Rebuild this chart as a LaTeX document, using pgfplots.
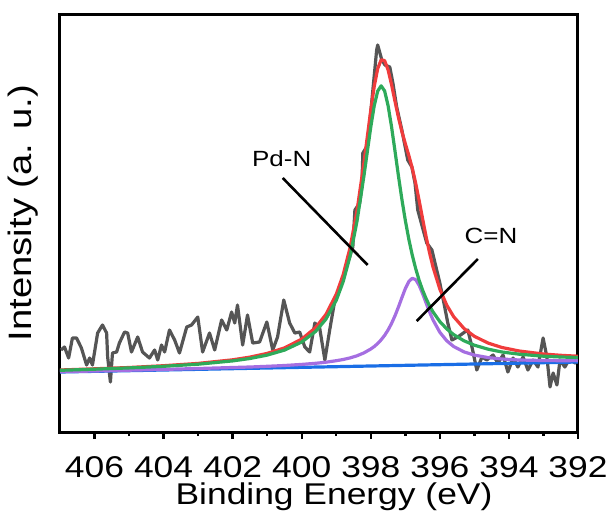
\documentclass[border=0pt]{standalone}
\usepackage{pgfplots}
\usepackage{pgfplotstable}
\pgfplotsset{compat=1.18}
\usepackage{fontspec}
\setmainfont{Liberation Sans}[FakeStretch=1.18]
\definecolor{rawgray}{HTML}{555555}
\definecolor{fitred}{HTML}{F03C3C}
\definecolor{fitgreen}{HTML}{2EAA5A}
\definecolor{fitpurple}{HTML}{A56EE1}
\definecolor{fitblue}{HTML}{1A6EE6}

\pgfplotstableread{
E v
406.97 82
406.87 85
406.75 74
406.64 94
406.52 94
406.38 84
406.23 67
406.14 74
406.06 67
405.91 99
405.77 107
405.65 99
405.62 75
405.54 50
405.48 79
405.36 80
405.28 89
405.13 100
405.04 99
404.93 80
404.75 95
404.61 80
404.41 74
404.26 82
404.17 72
404.06 87
403.97 80
403.83 102
403.68 92
403.54 79
403.33 105
403.19 107
403.01 115
402.87 80
402.67 99
402.52 82
402.32 112
402.17 102
402.03 120
401.94 109
401.86 127
401.71 87
401.57 117
401.42 89
401.22 90
401.01 110
400.84 82
400.70 95
400.52 132
400.35 109
400.20 99
400.06 100
399.91 85
399.77 80
399.62 109
399.48 104
399.33 72
399.19 102
399.04 132
398.88 145
398.67 169
398.52 185
398.46 222
398.32 229
398.26 245
398.23 279
398.12 285
398.03 309
397.94 342
397.83 382
397.80 387
397.68 372
397.59 367
397.45 365
397.36 349
397.25 325
397.10 302
396.93 272
396.81 265
396.72 249
396.64 222
396.38 189
396.23 182
396.14 169
396.00 149
395.86 125
395.77 109
395.65 92
395.48 95
395.28 100
395.19 102
395.07 85
394.93 62
394.78 75
394.64 72
394.46 77
394.32 69
394.17 77
394.03 60
393.88 74
393.74 65
393.59 75
393.45 62
393.30 72
393.16 65
393.01 94
392.90 75
392.81 45
392.72 59
392.61 47
392.52 72
392.38 65
392.23 74
392.09 69
392.03 75
}\rawdata

\pgfplotstableread{
E G P R
407.0 61.7 60.3 62.0
406.0 62.8 61.0 63.2
405.0 64.1 61.8 64.5
404.0 65.7 62.6 66.3
403.0 67.8 63.5 68.6
402.0 71.1 64.5 72.2
401.5 73.5 65.0 74.9
401.0 76.9 65.7 78.6
400.5 81.9 66.5 84.1
400.0 90.0 67.6 92.9
399.6 100.5 68.7 104.3
399.3 112.8 69.8 117.5
399.0 131.7 71.3 137.7
398.8 150.3 72.5 157.3
398.6 175.8 74.1 184.3
398.4 210.6 76.2 221.1
398.2 255.7 79.1 268.9
398.0 305.1 83.0 322.0
397.9 326.3 85.5 345.7
397.8 340.9 88.5 363.3
397.7 346.2 92.2 372.2
397.6 341.1 96.6 371.4
397.5 326.5 102.0 362.2
397.4 305.5 108.5 347.6
397.3 281.2 116.2 330.8
397.2 256.3 124.9 314.7
397.1 232.8 134.3 300.5
397.0 211.6 143.4 288.3
396.9 193.0 150.4 276.7
396.8 177.0 153.7 263.9
396.7 163.4 152.4 248.9
396.6 151.7 146.7 231.5
396.5 141.9 138.4 213.3
396.4 133.5 129.2 195.6
396.3 126.3 120.2 179.4
396.2 120.2 112.2 165.2
396.0 110.4 99.7 142.8
395.8 103.1 91.2 126.8
395.6 97.4 85.5 115.3
395.3 91.2 80.1 103.5
395.0 86.8 76.9 95.7
394.6 82.8 74.4 88.9
394.2 80.0 73.0 84.5
393.7 77.8 72.0 81.0
393.0 75.8 71.5 78.0
392.5 75.0 71.3 76.7
392.0 74.5 71.4 75.8
}\fitdata

\begin{document}
\begin{tikzpicture}
\begin{axis}[
  width=259pt, height=209pt, scale only axis,
  xmin=392, xmax=407, x dir=reverse,
  ymin=0, ymax=418,
  axis line style={line width=1.5pt},
  xtick={392,394,...,406},
  minor x tick num=1,
  ytick=\empty,
  tick align=outside,
  xtick pos=bottom,
  major tick length=3.5pt, minor tick length=2pt,
  every tick/.style={line width=1.2pt, black},
  /pgf/number format/assume math mode=true,
  /pgf/number format/set thousands separator={},
  xticklabel style={font=\fontsize{15}{18}\selectfont, anchor=base, yshift=-19pt},
  xlabel={Binding Energy (eV)},
  xlabel style={at={(axis description cs:0.529,-0.1746)}, anchor=base, font=\fontsize{15}{18}\selectfont},
  ylabel={Intensity (a. u.)},
  ylabel style={at={(axis description cs:-0.0714,0.524)}, anchor=center, font=\fontsize{16.2}{20}\selectfont},
]
\addplot[rawgray, line width=1.6pt, line join=round] table[x=E, y=v] {\rawdata};
\addplot[fitblue, line width=1.6pt] coordinates {(407,60) (392,70)};
\addplot[fitred, line width=1.6pt, line join=round] table[x=E, y=R] {\fitdata};
\addplot[fitpurple, line width=1.6pt, line join=round] table[x=E, y=P] {\fitdata};
\addplot[fitgreen, line width=1.6pt, line join=round] table[x=E, y=G] {\fitdata};
\node[font=\fontsize{11}{13}\selectfont] at (axis cs:400.58,273) {Pd-N};
\draw[line width=1.3pt] (axis cs:400.55,254) -- (axis cs:398.09,167);
\node[font=\fontsize{11}{13}\selectfont] at (axis cs:394.52,196) {C=N};
\draw[line width=1.3pt] (axis cs:394.90,173) -- (axis cs:396.67,111);
\end{axis}
\pgfresetboundingbox
\path[use as bounding box] ([shift={(-30pt,-42pt)}]current axis.south west) rectangle ([shift={(16.5pt,7pt)}]current axis.north east);
\end{tikzpicture}
\end{document}
